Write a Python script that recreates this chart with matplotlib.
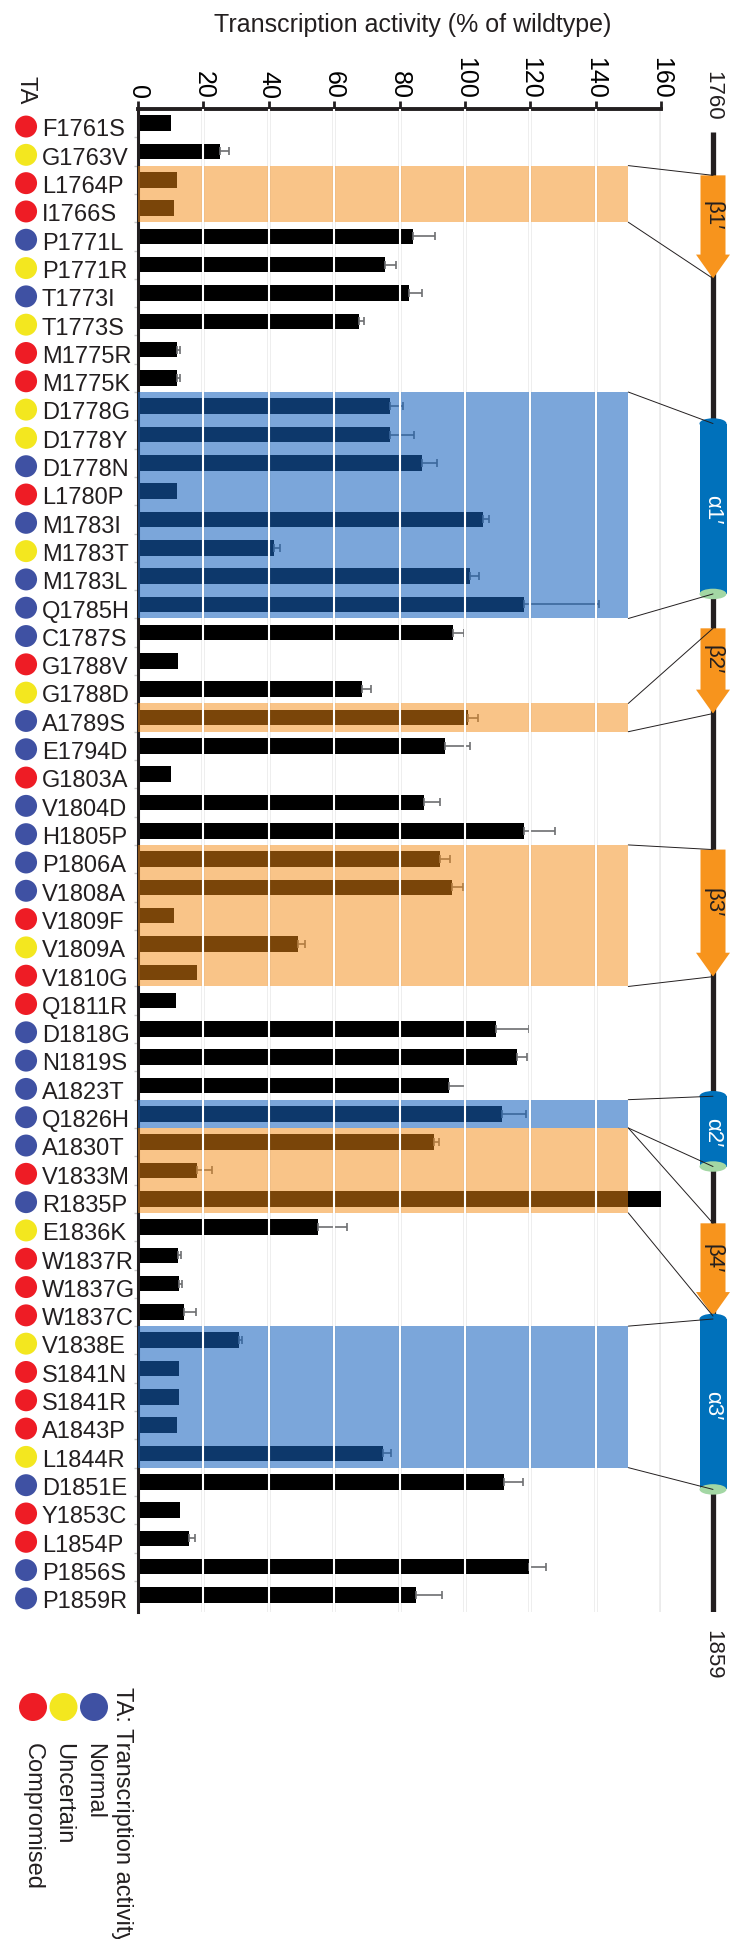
import matplotlib
matplotlib.use("Agg")
import matplotlib.pyplot as plt
import numpy as np
from matplotlib.patches import Rectangle, Ellipse, Polygon, Circle, ConnectionPatch
from matplotlib.transforms import blended_transform_factory

plt.rcParams["font.family"] = ["Liberation Sans", "DejaVu Sans"]

# --- data -------------------------------------------------------------
mutations = [
    "F1761S", "G1763V", "L1764P", "I1766S", "P1771L", "P1771R", "T1773I",
    "T1773S", "M1775R", "M1775K", "D1778G", "D1778Y", "D1778N", "L1780P",
    "M1783I", "M1783T", "M1783L", "Q1785H", "C1787S", "G1788V", "G1788D",
    "A1789S", "E1794D", "G1803A", "V1804D", "H1805P", "P1806A", "V1808A",
    "V1809F", "V1809A", "V1810G", "Q1811R", "D1818G", "N1819S", "A1823T",
    "Q1826H", "A1830T", "V1833M", "R1835P", "E1836K", "W1837R", "W1837G",
    "W1837C", "V1838E", "S1841N", "S1841R", "A1843P", "L1844R", "D1851E",
    "Y1853C", "L1854P", "P1856S", "P1859R",
]
activity = [
    10, 25, 12, 11, 84, 75.5, 83, 67.5, 12, 12,
    77, 77, 87, 12, 105.5, 41.5, 101.5, 118, 96.5, 12.3,
    68.5, 101, 94, 10, 87.5, 118, 92.5, 96, 11, 49,
    18, 11.5, 109.5, 116, 95, 111.5, 90.5, 18, 160, 55,
    12.3, 12.5, 14, 31, 12.5, 12.5, 12, 75, 112, 13,
    15.5, 119.5, 85,
]
errors = [
    0, 2.7, 0, 0, 7, 3.3, 4, 1.7, 1, 1,
    4, 7.5, 4.5, 0, 2, 1.8, 2.8, 23, 3.3, 0,
    2.8, 3, 7.5, 0, 5, 9.5, 3, 3.3, 0, 2.2,
    0, 0, 10, 3, 5, 7.3, 1.7, 4.6, 0, 9,
    1, 1, 3.7, 0.7, 0, 0, 0, 2.4, 5.7, 0,
    1.8, 5.4, 8,
]
# TA class of each mutation: N = normal, U = uncertain, C = compromised
ta_class = "CUCCNUNUCCUUNCNUNNNCUNNCNNNNCUCCNNNNNCNUCCCUCCCUNCCNN"
ta_colors = {"N": "#3f51a3", "U": "#f3e71f", "C": "#ee1c25"}
ta_names = [("N", "Normal"), ("U", "Uncertain"), ("C", "Compromised")]

# secondary structure of the domain (name, kind, first residue, last residue)
elements = [
    ("β1′", "strand", 1762.9, 1769.8),
    ("α1′", "helix", 1779.5, 1790.9),
    ("β2′", "strand", 1793.2, 1798.9),
    ("β3′", "strand", 1808.0, 1816.5),
    ("α2′", "helix", 1824.5, 1829.2),
    ("β4′", "strand", 1833.0, 1839.2),
    ("α3′", "helix", 1839.4, 1850.8),
]
# mutations covered by each element (first, last)
element_rows = [
    ("L1764P", "I1766S"), ("D1778G", "Q1785H"), ("A1789S", "A1789S"),
    ("P1806A", "V1810G"), ("Q1826H", "Q1826H"), ("A1830T", "R1835P"),
    ("V1838E", "L1844R"),
]
domain_start, domain_end = 1760, 1859

STRAND_COLOR = "#f7941d"
HELIX_COLOR = "#0071bb"
HELIX_END = "#a3d7a4"
SHADE = {"strand": ("#f58b13", 0.5), "helix": ("#1763be", 0.57)}
INK = "#231f20"

W, H = 730, 1940
fig = plt.figure(figsize=(W / 100, H / 100), dpi=100)


def fig_box(x0, y0, x1, y1):
    # pixel box (top-left origin) -> figure fraction rectangle
    return [x0 / W, 1 - y1 / H, (x1 - x0) / W, (y1 - y0) / H]


ax = fig.add_axes(fig_box(138, 110, 661, 1613))
n = len(mutations)
rows = np.arange(n)
act = np.array(activity, dtype=float)
err = np.array(errors, dtype=float)

ax.barh(rows, act, height=0.55, color="black", zorder=2)
has_err = err > 0
ax.errorbar(act[has_err], rows[has_err],
            xerr=[np.zeros(has_err.sum()), err[has_err]],
            fmt="none", ecolor="#6d6e71", elinewidth=1.2, capsize=3,
            capthick=1.2, zorder=2.5)

# shaded blocks for mutations inside secondary-structure elements
for (first, last), (_, kind, _, _) in zip(element_rows, elements):
    r0, r1 = mutations.index(first), mutations.index(last)
    shade, alpha = SHADE[kind]
    ax.add_patch(Rectangle((0, r0 - 0.5), 150, r1 - r0 + 1,
                           facecolor=shade, alpha=alpha,
                           edgecolor="none", zorder=3))

# grid
for gx in range(20, 161, 20):
    ax.axvline(gx, color="#ebebeb", lw=2.6, zorder=0.5)
    if gx < 160:
        ax.axvline(gx, color="white", lw=1.5, zorder=4)

ax.set_xlim(0, 160)
ax.set_ylim(52.6, -0.5)
ax.xaxis.set_ticks_position("top")
ax.set_xticks(range(0, 161, 20))
ax.tick_params(axis="x", labelrotation=-90, labelsize=18, length=6,
               width=2, pad=2, color=INK)
ax.set_yticks(np.arange(0.5, n - 1, 1))
ax.tick_params(axis="y", length=3, width=1, color="#c8c8c8", labelleft=False)
for side in ("right", "bottom"):
    ax.spines[side].set_visible(False)
ax.spines["top"].set_linewidth(2.8)
ax.spines["left"].set_linewidth(2.2)
ax.spines["top"].set_color(INK)
ax.spines["left"].set_color(INK)

# TA dots and mutation names
lab = blended_transform_factory(ax.transAxes, ax.transData)
ax.scatter(np.full(n, -0.214), rows + 0.12, transform=lab, s=250,
           c=[ta_colors[c] for c in ta_class], linewidths=0, clip_on=False)
for i, name in enumerate(mutations):
    ax.text(-0.1836, i + 0.22, name, transform=lab, ha="left", va="center",
            fontsize=17, color=INK)

fig.text(413 / W, 1 - 25 / H, "Transcription activity (% of wildtype)",
         ha="center", va="center", fontsize=18, color=INK)
fig.text(26 / W, 1 - 90 / H, "TA", rotation=-90, ha="center", va="center",
         fontsize=17, color=INK)

# --- domain topology --------------------------------------------------
ax2 = fig.add_axes(fig_box(696, 133, 730, 1613))
ax2.set_xlim(-17, 17)
ax2.set_ylim(domain_end, domain_start)
ax2.axis("off")
ax2.plot([0, 0], [domain_start, domain_end], color=INK, lw=3.8,
         solid_capstyle="butt", zorder=1)
ax2.annotate(str(domain_start), (0, domain_start), xytext=(0, 9),
             textcoords="offset points", ha="center", va="bottom",
             rotation=-90, fontsize=16, color=INK)
ax2.annotate(str(domain_end), (0, domain_end), xytext=(0, -12),
             textcoords="offset points", ha="center", va="top",
             rotation=-90, fontsize=16, color=INK)

half_w, head_w, head_len, cap_h = 12.5, 17, 1.6, 0.7
for (name, kind, s, e), (first, last) in zip(elements, element_rows):
    if kind == "strand":
        pts = [(-half_w, s), (half_w, s), (half_w, e - head_len),
               (head_w, e - head_len), (0, e), (-head_w, e - head_len),
               (-half_w, e - head_len)]
        ax2.add_patch(Polygon(pts, closed=True, facecolor=STRAND_COLOR,
                              edgecolor="none", zorder=2, clip_on=False))
        mid, tcol = (s + e - head_len) / 2, INK
    else:
        hw = 13.5
        ax2.add_patch(Rectangle((-hw, s), 2 * hw, e - s, facecolor=HELIX_COLOR,
                                edgecolor="none", zorder=2, clip_on=False))
        ax2.add_patch(Ellipse((0, s), 2 * hw, cap_h, facecolor=HELIX_COLOR,
                              edgecolor="none", zorder=2, clip_on=False))
        ax2.add_patch(Ellipse((0, e), 2 * hw, cap_h, facecolor=HELIX_END,
                              edgecolor="none", zorder=2.2, clip_on=False))
        mid, tcol = (s + e) / 2, "white"
    ax2.text(0, mid, name, rotation=-90, ha="center", va="center",
             fontsize=16, color=tcol, zorder=3)

    r0, r1 = mutations.index(first), mutations.index(last)
    for row_edge, res in ((r0 - 0.5, s), (r1 + 0.5, e)):
        fig.add_artist(ConnectionPatch(
            xyA=(150, row_edge), coordsA=ax.transData,
            xyB=(0, res), coordsB=ax2.transData,
            color=INK, lw=0.7, zorder=5))

# --- legend -------------------------------------------------------------
axl = fig.add_axes([0, 0, 1, 1])
axl.set_xlim(0, W)
axl.set_ylim(H, 0)
axl.axis("off")
axl.text(122, 1687, "TA: Transcription activity", rotation=-90,
         ha="center", va="top", fontsize=17, color=INK)
for k, (code, label) in enumerate(ta_names):
    x = 94 - 30.5 * k
    axl.add_patch(Circle((x, 1708), 14, facecolor=ta_colors[code],
                         edgecolor="none"))
    axl.text(x, 1743, label, rotation=-90, ha="center", va="top",
             fontsize=17, color=INK)

fig.savefig("out.png", dpi=100)
